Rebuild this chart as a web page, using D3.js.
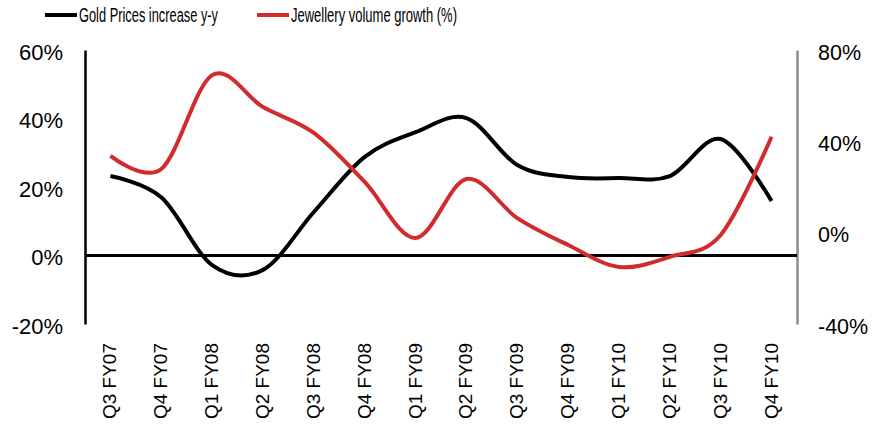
<!DOCTYPE html>
<html>
<head>
<meta charset="utf-8">
<script src="https://cdn.jsdelivr.net/npm/d3@7"></script>
<style>
  body { margin: 0; background: #fff; }
  text { font-family: "Liberation Sans", Arial, sans-serif; fill: #000; }
</style>
</head>
<body>
<div id="chart"></div>
<script>
// quarters on the x axis
const quarters = ["Q3 FY07", "Q4 FY07", "Q1 FY08", "Q2 FY08", "Q3 FY08", "Q4 FY08", "Q1 FY09",
                  "Q2 FY09", "Q3 FY09", "Q4 FY09", "Q1 FY10", "Q2 FY10", "Q3 FY10", "Q4 FY10"];
// left axis (%)
const goldPrices = [23.2, 17, -2.8, -4.2, 12.7, 28.8, 36, 40.1, 26.4, 22.9, 22.6, 23.2, 34, 15.9];
// right axis (%)
const jewelleryVolume = [33.6, 27.9, 69, 55, 43.7, 22.2, -2.3, 23.5, 6.4, -5.4, -15, -10.6, -1, 42];

const leftTicks = [-20, 0, 20, 40, 60];
const rightTicks = [-40, 0, 40, 80];

const W = 874, H = 430;
const mLeft = 85, mRight = 797, mTop = 50, mBottom = 324;

const svg = d3.select("#chart").append("svg")
    .attr("width", W)
    .attr("height", H);

const x = d3.scaleBand().domain(quarters).range([mLeft, mRight]);
const yL = d3.scaleLinear().domain([-20, 60]).range([mBottom, mTop]);
const yR = d3.scaleLinear().domain([-40, 80]).range([mBottom, mTop]);

// left axis
const axL = svg.append("g")
    .attr("transform", "translate(" + mLeft + ",0)")
    .call(d3.axisLeft(yL).tickValues(leftTicks).tickSize(0).tickPadding(22).tickFormat(d => d + "%"));
axL.select(".domain").attr("stroke", "#000").attr("stroke-width", 2.5);
axL.selectAll("text").style("font-size", "22px").attr("dy", "0.42em");

// right axis
const axR = svg.append("g")
    .attr("transform", "translate(" + mRight + ",0)")
    .call(d3.axisRight(yR).tickValues(rightTicks).tickSize(0).tickPadding(21).tickFormat(d => d + "%"));
axR.select(".domain").attr("stroke", "#8c8c8c").attr("stroke-width", 2.5);
axR.selectAll("text").style("font-size", "21.5px").attr("dy", "0.42em");

// zero line
svg.append("line")
    .attr("x1", mLeft).attr("x2", mRight)
    .attr("y1", yL(0)).attr("y2", yL(0))
    .attr("stroke", "#000").attr("stroke-width", 3);

// category labels
svg.append("g").selectAll("text")
    .data(quarters)
    .join("text")
    .attr("transform", d => "translate(" + (x(d) + x.bandwidth() / 2 + 6) + ",343) rotate(-90)")
    .attr("text-anchor", "end")
    .style("font-size", "19px")
    .text(d => d);

// lines
const lineGold = d3.line()
    .x((d, i) => x(quarters[i]) + x.bandwidth() / 2)
    .y(d => yL(d))
    .curve(d3.curveCardinal.tension(0));

const lineJew = d3.line()
    .x((d, i) => x(quarters[i]) + x.bandwidth() / 2)
    .y(d => yR(d))
    .curve(d3.curveCardinal.tension(0));

svg.append("path")
    .attr("fill", "none")
    .attr("stroke", "#000")
    .attr("stroke-width", 4)
    .attr("d", lineGold(goldPrices));

svg.append("path")
    .attr("fill", "none")
    .attr("stroke", "#d22b2b")
    .attr("stroke-width", 4)
    .attr("d", lineJew(jewelleryVolume));

// legend
const legend = [
    { name: "Gold Prices increase y-y", color: "#000", x: 45, w: 139 },
    { name: "Jewellery volume growth (%)", color: "#d22b2b", x: 257, w: 166 }
];
legend.forEach(l => {
    svg.append("line")
        .attr("x1", l.x).attr("x2", l.x + 32)
        .attr("y1", 15).attr("y2", 15)
        .attr("stroke", l.color).attr("stroke-width", 4);
    svg.append("text")
        .attr("x", l.x + 34).attr("y", 22)
        .style("font-size", "20.5px")
        .attr("textLength", l.w)
        .attr("lengthAdjust", "spacingAndGlyphs")
        .text(l.name);
});
</script>
</body>
</html>
